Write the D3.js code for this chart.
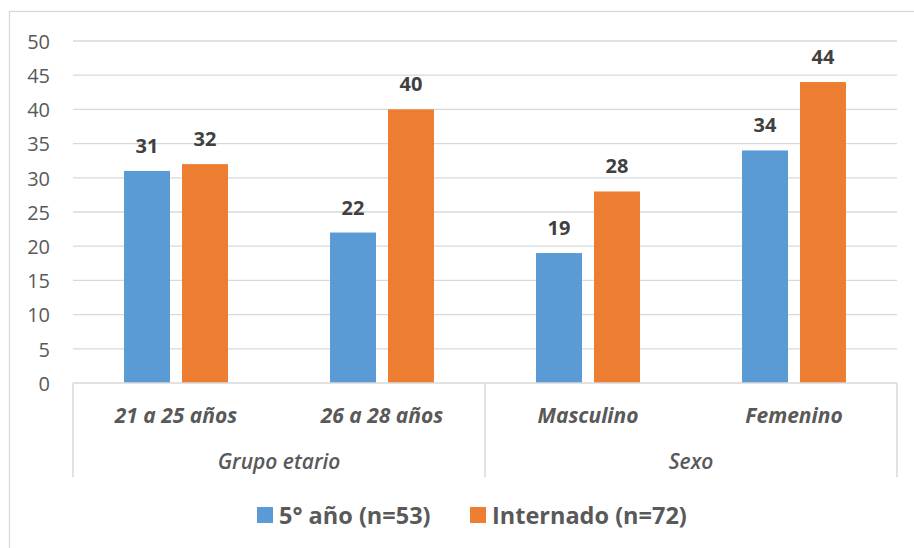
<!DOCTYPE html>
<html><head><meta charset="utf-8">
<script src="https://cdn.jsdelivr.net/npm/d3@7"></script>
<style>body{margin:0;background:#fff}svg{display:block;font-family:"Open Sans",sans-serif}</style>
</head><body><svg id="c" width="914" height="548"></svg>
<script>
const categories = ["21 a 25 años","26 a 28 años","Masculino","Femenino"];
const groups = ["Grupo etario","Grupo etario","Sexo","Sexo"];
const groupNames = ["Grupo etario","Sexo"];
const seriesNames = ["5° año (n=53)","Internado (n=72)"];
const quinto = [31,22,19,34];
const internado = [32,40,28,44];
const yTicks = [0,5,10,15,20,25,30,35,40,45,50];
const colors = ["#5B9BD5","#ED7D31"];

const svg = d3.select("#c");
const L=73, R=897, T=41, B=383;
svg.append("rect").attr("x",9.5).attr("y",11.5).attr("width",910).attr("height",560)
  .attr("fill","none").attr("stroke","#D9D9D9").attr("stroke-width",1.3);

const y = d3.scaleLinear().domain([0,50]).range([B,T]);
const x = d3.scaleBand().domain(categories).range([L,R]);
const xs = d3.scaleBand().domain([0,1]).range([0,x.bandwidth()]).paddingInner(0.207).paddingOuter(0.88);

// gridlines
svg.append("g").selectAll("line").data(yTicks.filter(d=>d>0)).join("line")
  .attr("x1",L).attr("x2",R).attr("y1",d=>y(d)).attr("y2",d=>y(d))
  .attr("stroke","#D9D9D9").attr("stroke-width",1.3);

// y axis
const ya = svg.append("g").attr("transform",`translate(${L},0)`)
  .call(d3.axisLeft(y).tickValues(yTicks).tickSize(0).tickPadding(23));
ya.select(".domain").remove();
ya.selectAll("text").attr("font-size",20).attr("fill","#595959").attr("font-family","Open Sans").attr("dy","0.36em");

// bars
const data = categories.map((c,i)=>({c, v:[quinto[i],internado[i]]}));
const g = svg.append("g");
data.forEach(d=>{
  d.v.forEach((v,s)=>{
    const bx = x(d.c)+xs(s);
    g.append("rect").attr("x",bx).attr("y",y(v)).attr("width",xs.bandwidth()).attr("height",B-y(v))
      .attr("fill",colors[s]);
    g.append("text").attr("x",bx+xs.bandwidth()/2).attr("y",y(v)-18)
      .attr("text-anchor","middle").attr("font-size",20).attr("font-weight","bold").attr("fill","#404040").text(v);
  });
});

// category axis
const ax = svg.append("g");
ax.append("line").attr("x1",L).attr("x2",R).attr("y1",B).attr("y2",B).attr("stroke","#D9D9D9").attr("stroke-width",1.5);
const seps = [L, x(categories[2]), R];
seps.forEach(sx=>ax.append("line").attr("x1",sx).attr("x2",sx).attr("y1",B).attr("y2",477).attr("stroke","#D9D9D9").attr("stroke-width",1.5));
categories.forEach(c=>{
  ax.append("text").attr("x",x(c)+x.bandwidth()/2).attr("y",423).attr("text-anchor","middle")
    .attr("font-size",21).attr("font-weight","bold").attr("font-style","italic").attr("fill","#595959").text(c);
});
groupNames.forEach(gn=>{
  const idx = groups.map((g,i)=>g===gn?i:-1).filter(i=>i>=0);
  const x0 = x(categories[idx[0]]), x1 = x(categories[idx[idx.length-1]])+x.bandwidth();
  ax.append("text").attr("x",(x0+x1)/2).attr("y",469).attr("text-anchor","middle")
    .attr("font-size",21).attr("font-weight",600).attr("font-style","italic").attr("fill","#595959").text(gn);
});

// legend
const leg = svg.append("g");
const legX = [257,470];
seriesNames.forEach((n,i)=>{
  leg.append("rect").attr("x",legX[i]).attr("y",507).attr("width",16).attr("height",16).attr("fill",colors[i]);
  leg.append("text").attr("x",legX[i]+22).attr("y",524).attr("font-size",23.5).attr("font-weight","bold").attr("fill","#595959").text(n);
});
</script></body></html>
